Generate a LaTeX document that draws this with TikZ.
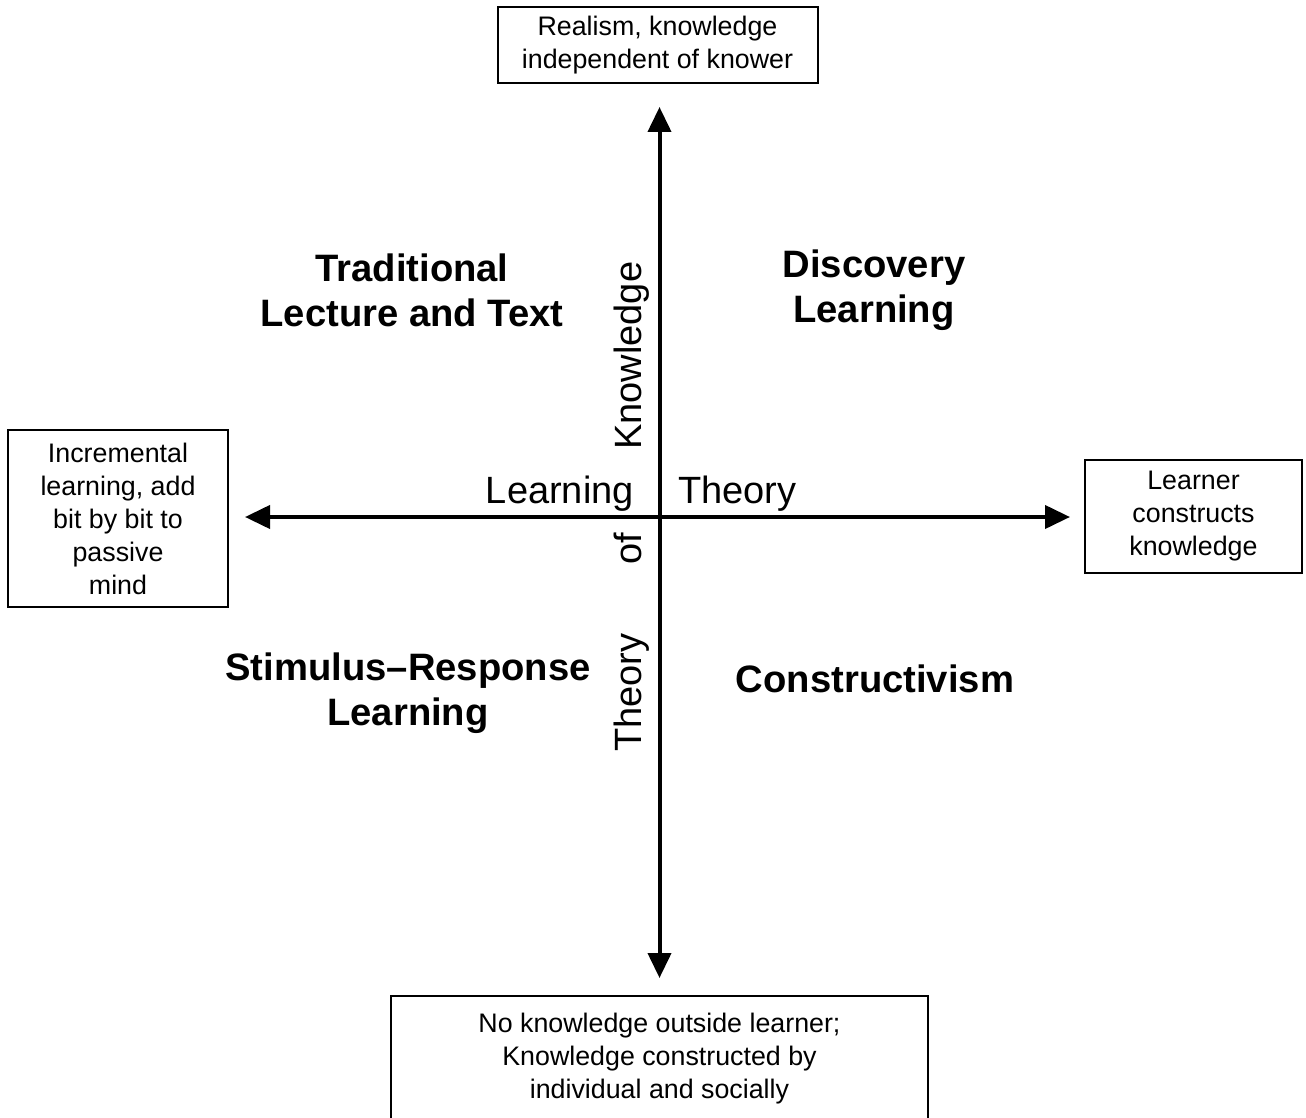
\documentclass[tikz,border=0pt]{standalone}
\usepackage{fontspec}
\setmainfont{Liberation Sans}
\usetikzlibrary{arrows.meta}
\begin{document}
\begin{tikzpicture}[x=1pt,y=-1pt,
  box/.style={draw, line width=2pt, inner sep=0pt, align=center,
    font=\fontsize{26.8}{33}\selectfont},
  quad/.style={inner sep=0pt, align=center,
    font=\fontsize{38.2}{45}\selectfont\bfseries},
  axislabel/.style={inner sep=0pt, font=\fontsize{38}{45}\selectfont},
  axis/.style={line width=4pt,
    {Triangle[length=25pt,width=23pt]}-{Triangle[length=25pt,width=23pt]}}]
\useasboundingbox (0,0) rectangle (1306,1118);
\fill[white] (0,0) rectangle (1306,1118);

% end-point boxes of the two axes
\node[box, minimum width=320pt, minimum height=76pt] (top) at (657.5,45)
  {Realism, knowledge\\independent of knower};
\node[box, minimum width=220pt, minimum height=177pt] (left) at (118,518.5)
  {Incremental\\learning, add\\bit by bit to\\passive\\mind};
\node[box, minimum width=217pt, minimum height=113pt] (right) at (1193.5,516.5)
  {Learner\\constructs\\knowledge};
\node[box, minimum width=537pt, minimum height=126pt] (bottom) at (659.5,1059)
  {No knowledge outside learner;\\Knowledge constructed by\\individual and socially};

% origin of the axes
\coordinate (O) at (659.5,517);

% axes
\draw[axis, shorten <=23pt, shorten >=17pt] (top.south -| O) -- (bottom.north -| O);
\draw[axis, shorten <=16pt, shorten >=14pt] (left.east |- O) -- (right.west |- O);

% quadrant labels
\node[quad] (trad) at (412,290) {Traditional\\Lecture and Text};
\node[quad] (disc) at (874,290.5) {Discovery\\Learning};
\node[quad] (sr) at (408,693) {Stimulus–Response\\Learning};
\node[quad, anchor=base] (cons) at (875,692) {Constructivism};

% axis titles
\node[axislabel, anchor=base east] (learnh) at (634,503) {Learning};
\node[axislabel, anchor=base west] (theoryh) at (678,503) {Theory};
\node[axislabel, rotate=90, anchor=base west] (knowv) at (641,450) {Knowledge};
\node[axislabel, rotate=90, anchor=base west] (ofv) at (641,565) {of};
\node[axislabel, rotate=90, anchor=base west] (theoryv) at (641,752) {Theory};
\end{tikzpicture}
\end{document}
